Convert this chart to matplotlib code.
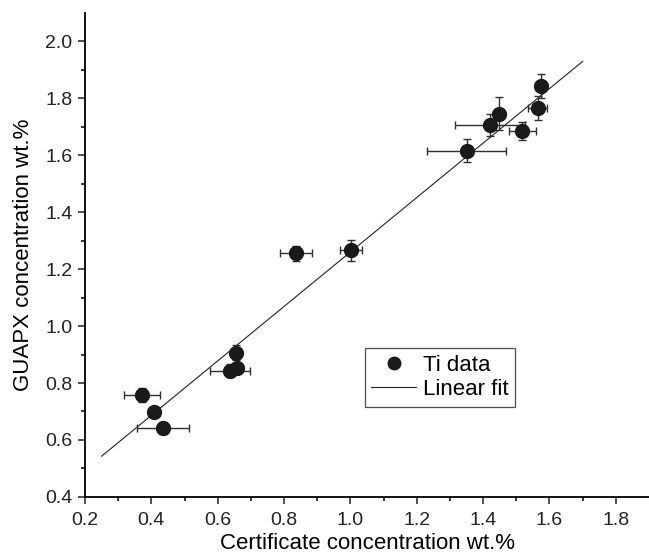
import numpy as np
import matplotlib.pyplot as plt
from matplotlib.lines import Line2D

plt.rcParams['font.family'] = ['Liberation Sans', 'DejaVu Sans']

# Ti data: certificate vs GUAPX concentration (wt.%)
cert = [0.371, 0.409, 0.436, 0.637, 0.659, 0.656, 0.837, 1.002,
        1.350, 1.421, 1.448, 1.518, 1.564, 1.575]
guapx = [0.759, 0.699, 0.642, 0.843, 0.851, 0.907, 1.255, 1.266,
         1.615, 1.705, 1.746, 1.685, 1.766, 1.843]
cert_err = [0.055, 0.015, 0.078, 0.060, 0.015, 0.010, 0.048, 0.032,
            0.120, 0.105, 0.010, 0.041, 0.030, 0.016]
guapx_err = [0.024, 0.012, 0.020, 0.022, 0.020, 0.027, 0.025, 0.036,
             0.040, 0.038, 0.058, 0.032, 0.042, 0.041]

# linear fit
fit_slope = 0.956
fit_intercept = 0.304
fit_range = [0.25, 1.70]

fig = plt.figure(figsize=(6.49, 5.54), dpi=100)
ax = fig.add_axes([0.131, 0.103, 0.869, 0.874])

ax.errorbar(cert, guapx, xerr=cert_err, yerr=guapx_err, fmt='o',
            color='#1a1a1a', ecolor='#2e2e2e', elinewidth=1.0, capsize=3,
            capthick=1.0, markersize=10, zorder=3)

fx = np.array(fit_range)
ax.plot(fx, fit_intercept + fit_slope * fx, color='#222222', lw=0.8, zorder=2)

ax.set_xlim(0.2, 1.9)
ax.set_ylim(0.4, 2.1)
ax.set_xticks(np.arange(0.2, 1.81, 0.2))
ax.set_yticks(np.arange(0.4, 2.01, 0.2))
ax.set_xticks(np.arange(0.3, 1.9, 0.2), minor=True)
ax.set_yticks(np.arange(0.5, 2.1, 0.2), minor=True)
ax.xaxis.set_major_formatter(plt.FormatStrFormatter('%.1f'))
ax.yaxis.set_major_formatter(plt.FormatStrFormatter('%.1f'))

for s in ['top', 'right']:
    ax.spines[s].set_visible(False)
for s in ['left', 'bottom']:
    ax.spines[s].set_linewidth(1.3)

ax.tick_params(which='major', direction='out', length=5, width=1.1,
               labelsize=14, colors='#222222', pad=4)
ax.tick_params(axis='x', which='major', pad=6)
ax.tick_params(which='minor', direction='out', length=3, width=1.1)

ax.set_xlabel('Certificate concentration wt.%', fontsize=16, labelpad=3)
ax.set_ylabel('GUAPX concentration wt.%', fontsize=16, labelpad=8)

handles = [Line2D([], [], marker='o', ls='none', color='#1a1a1a', markersize=9),
           Line2D([], [], color='#222222', lw=0.8)]
leg = ax.legend(handles, ['Ti data', 'Linear fit'], loc='upper left',
                bbox_to_anchor=(0.496, 0.3075), borderaxespad=0, fontsize=16,
                frameon=True, fancybox=False, handlelength=2.0, numpoints=1,
                borderpad=0.3, labelspacing=0.15, handletextpad=0.3)
leg.get_frame().set_edgecolor('#222222')
leg.get_frame().set_linewidth(0.9)

fig.savefig('out.png', dpi=100)
